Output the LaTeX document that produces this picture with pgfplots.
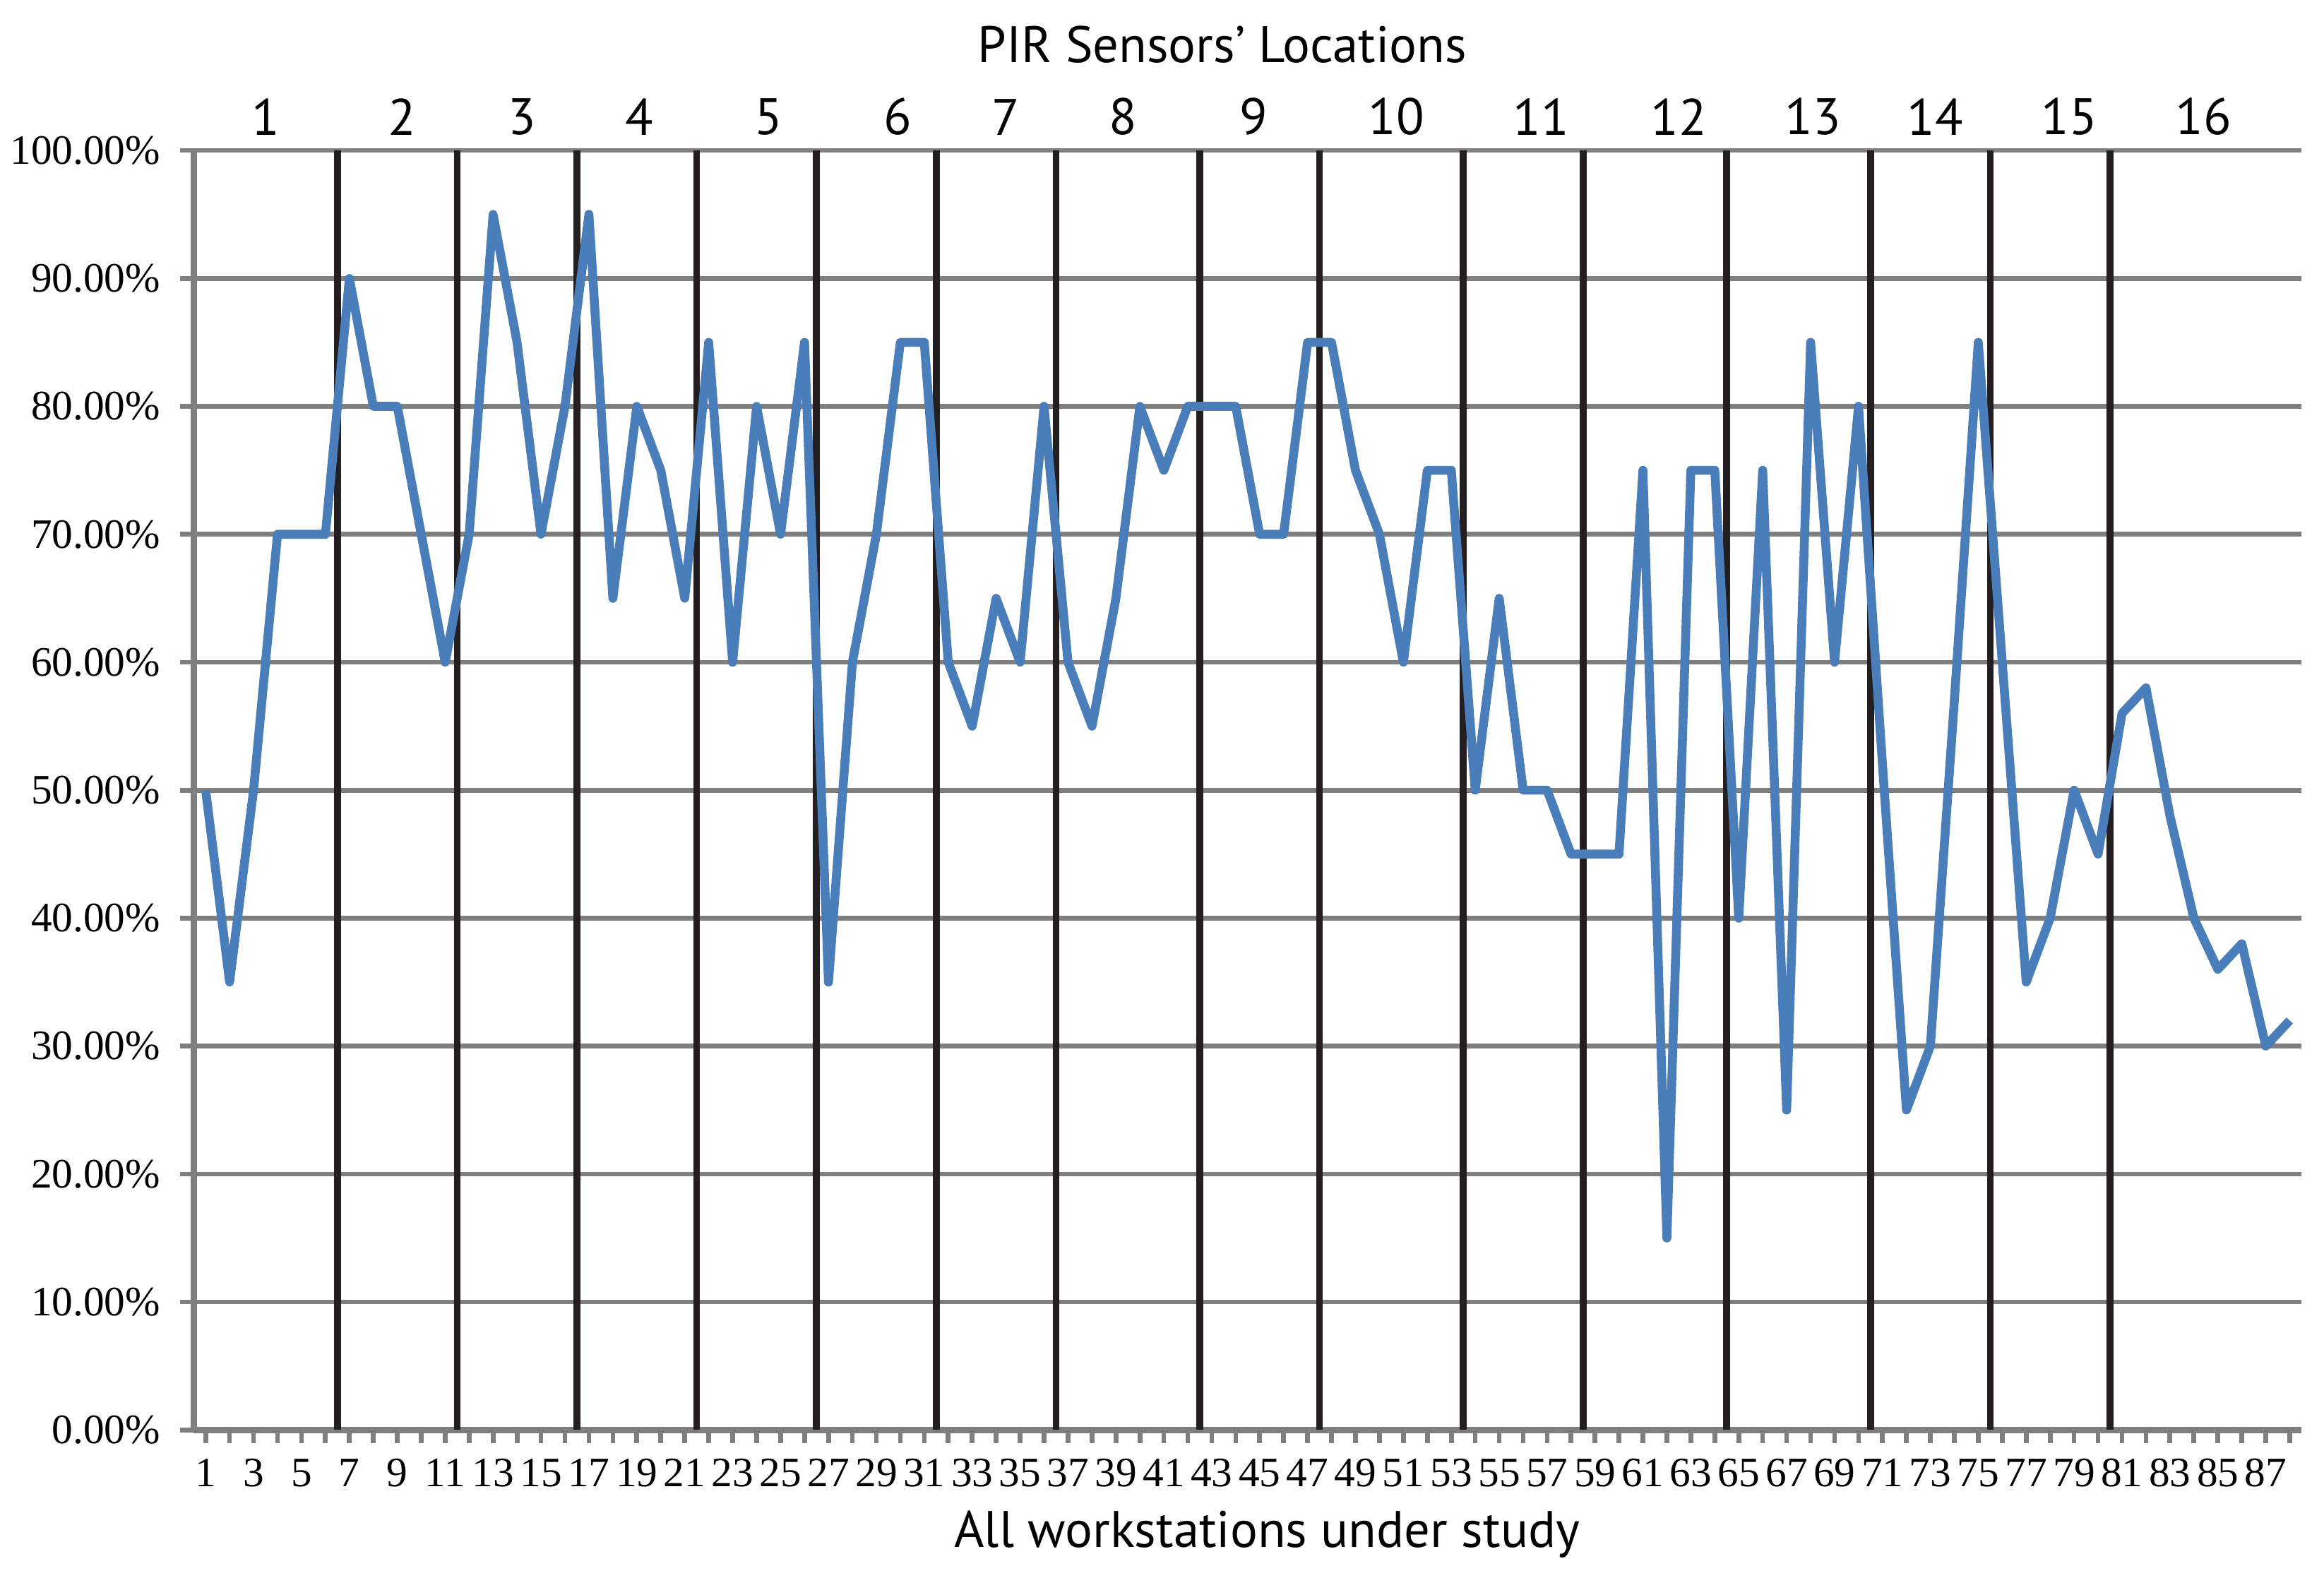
\documentclass[border=0pt]{standalone}
\usepackage{fontspec}
\setmainfont{Liberation Serif}
\newfontfamily\sansf{PT Sans}
\usepackage{pgfplots}
\pgfplotsset{compat=1.18}
\definecolor{lineblue}{HTML}{4A7EBB}
\definecolor{gridgrey}{HTML}{7F7F7F}
\definecolor{sepblack}{HTML}{231F20}
\pgfplotstableread{
x y
1 50
2 35
3 50
4 70
5 70
6 70
7 90
8 80
9 80
10 70
11 60
12 70
13 95
14 85
15 70
16 80
17 95
18 65
19 80
20 75
21 65
22 85
23 60
24 80
25 70
26 85
27 35
28 60
29 70
30 85
31 85
32 60
33 55
34 65
35 60
36 80
37 60
38 55
39 65
40 80
41 75
42 80
43 80
44 80
45 70
46 70
47 85
48 85
49 75
50 70
51 60
52 75
53 75
54 50
55 65
56 50
57 50
58 45
59 45
60 45
61 75
62 15
63 75
64 75
65 40
66 75
67 25
68 85
69 60
70 80
71 52
72 25
73 30
74 57
75 85
76 60
77 35
78 40
79 50
80 45
81 56
82 58
83 48
84 40
85 36
86 38
87 30
88 32
}\datatable
\begin{document}
\begin{tikzpicture}
\path[use as bounding box] (-1.30cm,-1.07cm) rectangle (14.30cm,9.60cm);
\begin{axis}[
  name=main,
  at={(0,0)}, anchor=south west,
  width=14.15cm, height=8.59cm, scale only axis,
  xmin=0.5, xmax=88.5, ymin=0, ymax=100,
  axis x line*=bottom, axis y line*=left,
  axis line style={gridgrey, line width=1.2pt},
  xtick={1,3,...,87},
  minor xtick={2,4,...,88},
  ytick={0,10,...,100},
  tick align=outside,
  major tick length=0.09cm, minor tick length=0.09cm,
  tick style={gridgrey, line width=0.9pt},
  ymajorgrids,
  major grid style={gridgrey, line width=0.9pt},
  extra x ticks={6.5,11.5,16.5,21.5,26.5,31.5,36.5,42.5,47.5,53.5,58.5,64.5,70.5,75.5,80.5},
  extra x tick labels={},
  extra x tick style={grid=major, major grid style={sepblack, line width=1.3pt}, major tick length=0pt},
  /pgf/number format/assume math mode=true,
  ticklabel style={font=\fontsize{8}{9}\selectfont},
  yticklabel={\pgfmathprintnumber[fixed,fixed zerofill,precision=2]{\tick}\%},
  yticklabel style={xshift=-0.01cm},
  xticklabel style={yshift=0.02cm},
  xlabel={\sansf\fontsize{9.8}{11}\selectfont All workstations under study},
  xlabel style={yshift=0.17cm, xshift=0.13cm},
]
\addplot[lineblue, line width=1.7pt, line join=round, mark=none] table[x=x,y=y] {\datatable};
\end{axis}
\begin{axis}[
  at={(0,0)}, anchor=south west,
  width=14.15cm, height=8.59cm, scale only axis,
  xmin=0.5, xmax=88.5, ymin=0, ymax=100,
  axis x line*=top, axis y line=none,
  axis line style={draw=none},
  xtick={3.5,9.2,14.2,19.1,24.5,29.9,34.4,39.3,44.75,50.7,56.75,62.5,68.1,73.2,78.8,84.4},
  xticklabels={1,2,3,4,5,6,7,8,9,10,11,12,13,14,15,16},
  major tick length=0pt,
  xticklabel style={font=\sansf\fontsize{9.8}{11}\selectfont, yshift=-0.02cm},
  title={\sansf\fontsize{9.8}{11}\selectfont PIR Sensors’ Locations},
  title style={at={(0.5,1)}, anchor=base, xshift=-0.17cm, yshift=0.38cm},
]
\end{axis}
\end{tikzpicture}
\end{document}
